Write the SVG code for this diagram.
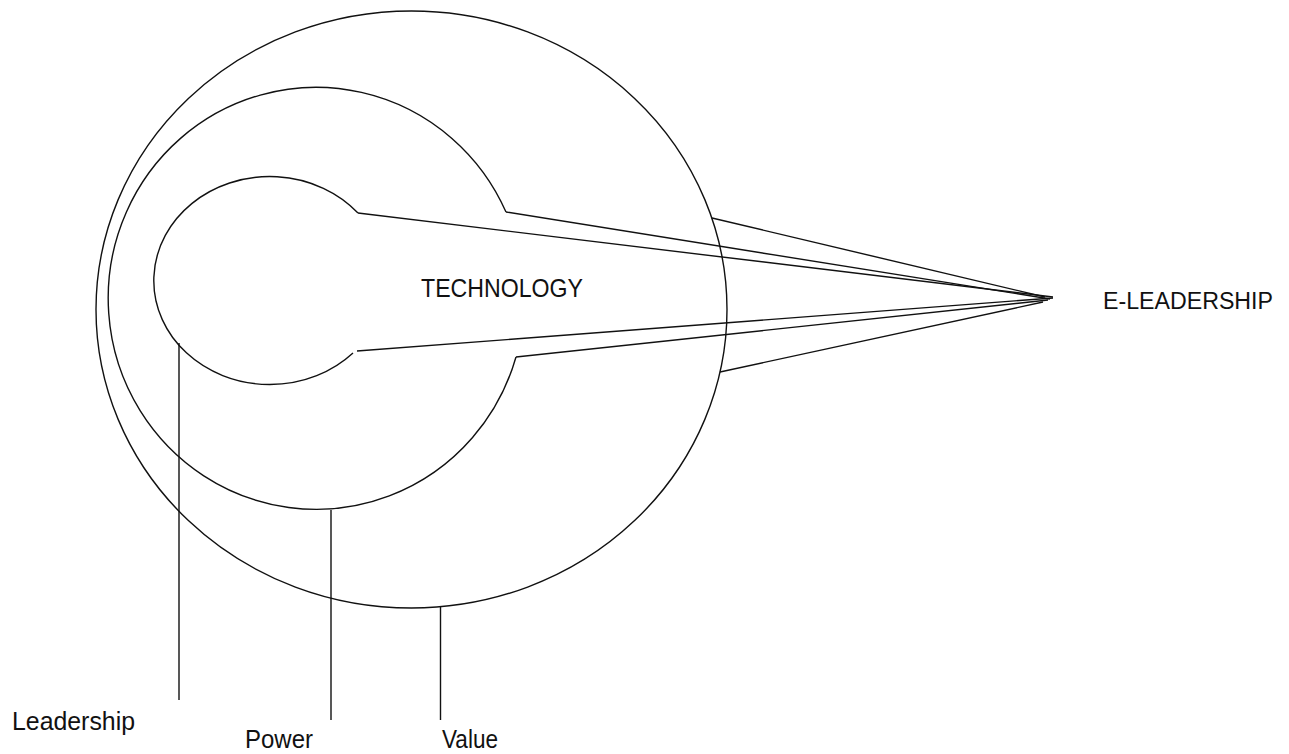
<svg xmlns="http://www.w3.org/2000/svg" width="1289" height="754" viewBox="0 0 1289 754">
<style>
.s{fill:none;stroke:#111;stroke-width:1.4}
.t{font-family:"Liberation Sans",Arial,sans-serif;fill:#111}
</style>
<rect width="1289" height="754" fill="#fff"/>
<g id="value-circle">
<ellipse class="s" cx="411.5" cy="309.5" rx="315.5" ry="298.5"/>
</g>
<g id="power-circle">
<path class="s" d="M 506 212 A 208 211 0 1 0 516 357"/>
</g>
<g id="leadership-circle">
<path class="s" d="M 358 213 A 116 104 0 1 0 353 353"/>
</g>
<g id="technology">
<text class="t" x="421" y="297" font-size="26" textLength="162" lengthAdjust="spacingAndGlyphs">TECHNOLOGY</text>
</g>
<g id="e-leadership">
<text class="t" x="1103" y="309" font-size="23" textLength="170" lengthAdjust="spacingAndGlyphs">E-LEADERSHIP</text>
</g>
<g id="connectors">
<line class="s" x1="712" y1="218" x2="1045" y2="297"/>
<line class="s" x1="506" y1="212" x2="1050" y2="299"/>
<line class="s" x1="358" y1="213" x2="1053" y2="297"/>
<line class="s" x1="357" y1="351" x2="1053" y2="298"/>
<line class="s" x1="516" y1="357" x2="1048" y2="300"/>
<line class="s" x1="720" y1="372" x2="1043" y2="302"/>
<line class="s" x1="179" y1="343" x2="179" y2="700"/>
<line class="s" x1="331" y1="510" x2="331" y2="720"/>
<line class="s" x1="440.5" y1="607" x2="440.5" y2="720"/>
</g>
<g id="label-leadership">
<text class="t" x="12" y="730" font-size="25" textLength="123" lengthAdjust="spacingAndGlyphs">Leadership</text>
</g>
<g id="label-power">
<text class="t" x="245" y="748" font-size="25" textLength="68" lengthAdjust="spacingAndGlyphs">Power</text>
</g>
<g id="label-value">
<text class="t" x="442" y="748" font-size="25" textLength="56" lengthAdjust="spacingAndGlyphs">Value</text>
</g>
</svg>
